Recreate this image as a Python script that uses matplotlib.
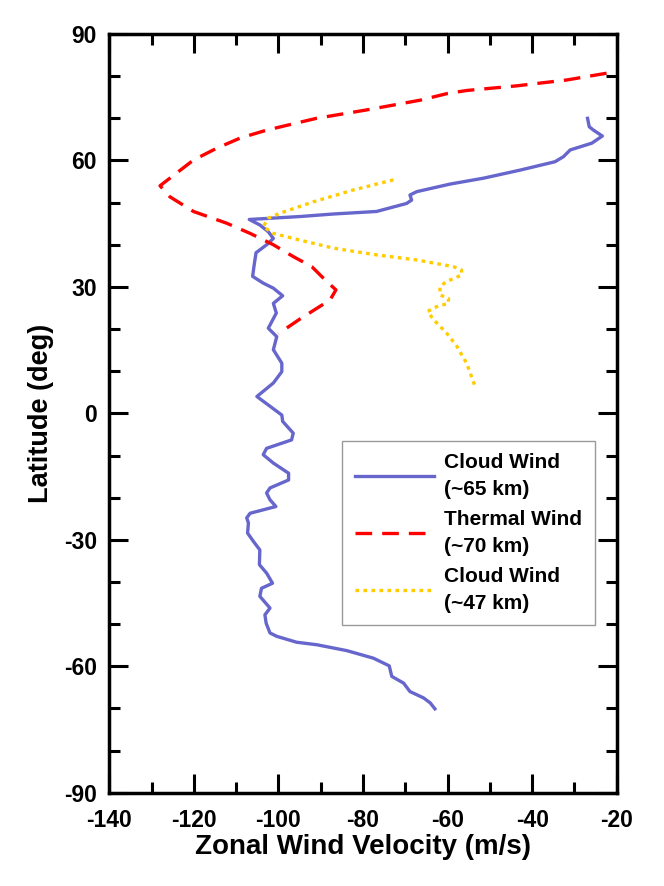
import matplotlib
matplotlib.use("Agg")
import matplotlib.pyplot as plt
from matplotlib.ticker import MultipleLocator

# Cloud wind (~65 km)
cloud65_u = [-26.9, -26.5, -25.5, -23.4, -25.9, -31.0, -32.6, -34.6, -42.9, -51.5,
             -59.4, -67.3, -68.9, -68.5, -69.7, -76.8, -87.0, -94.9, -106.9, -104.4,
             -102.4, -101.2, -102.8, -105.3, -105.8, -106.1, -103.6, -101.2, -99.0, -101.2,
             -100.5, -102.4, -100.4, -101.2, -99.2, -99.2, -101.2, -105.1, -99.2, -99.0,
             -96.5, -96.9, -102.8, -103.6, -101.2, -97.6, -97.6, -102.0, -102.8, -102.0,
             -100.6, -106.7, -107.5, -107.1, -107.3, -105.9, -104.4, -104.5, -102.8, -101.4,
             -104.0, -104.4, -102.0, -103.2, -102.9, -102.0, -100.4, -95.7, -90.9, -83.8,
             -77.5, -73.8, -73.2, -70.4, -68.9, -65.7, -64.1, -63.0]
cloud65_lat = [70.0, 68.0, 67.2, 65.8, 64.1, 62.5, 60.9, 59.7, 57.7, 55.8,
               54.4, 52.6, 51.8, 50.6, 49.8, 47.9, 47.3, 46.7, 46.0, 44.7,
               43.1, 41.5, 40.0, 38.1, 34.8, 32.5, 30.9, 29.7, 27.9, 26.1,
               23.8, 20.2, 18.2, 15.1, 11.9, 9.9, 7.2, 4.0, -0.4, -1.9,
               -4.7, -6.3, -8.3, -9.8, -11.8, -14.2, -15.8, -17.7, -18.9, -20.5,
               -22.1, -23.7, -24.8, -26.0, -28.4, -30.4, -32.4, -35.9, -37.9, -40.3,
               -41.5, -43.4, -46.2, -47.8, -49.8, -52.1, -52.9, -54.3, -54.9, -56.3,
               -58.1, -59.9, -62.4, -64.0, -66.0, -67.5, -68.7, -70.1]

# Thermal wind (~70 km)
thermal_u = [-22.4, -31.8, -43.7, -55.5, -60.0, -66.5, -79.1, -91.0, -102.8, -109.1,
             -114.6, -120.1, -124.1, -128.0, -125.7, -120.1, -112.2, -106.7, -101.2, -96.5,
             -92.1, -88.6, -86.4, -87.8, -94.9, -100.0]
thermal_lat = [80.7, 79.1, 77.7, 76.6, 75.9, 74.3, 72.0, 70.0, 67.2, 65.3,
               62.9, 60.1, 57.0, 54.0, 51.4, 47.9, 45.1, 42.7, 40.0, 37.2,
               34.8, 31.3, 29.3, 26.9, 22.4, 18.9]

# Cloud wind (~47 km)
cloud47_u = [-72.8, -82.3, -91.7, -99.6, -102.4, -103.6, -101.2, -94.9, -87.0, -76.8,
             -67.3, -58.6, -56.7, -56.7, -60.2, -61.8, -61.8, -59.8, -59.8, -62.6,
             -64.7, -63.3, -60.2, -57.8, -55.5, -53.5]
cloud47_lat = [55.4, 53.0, 50.2, 47.5, 46.3, 44.3, 42.7, 41.1, 39.2, 37.6,
               36.4, 34.8, 34.0, 32.8, 31.3, 30.1, 28.1, 27.3, 26.1, 25.3,
               24.2, 22.2, 19.0, 15.9, 11.9, 6.4]

plt.rcParams["font.family"] = ["Liberation Sans", "DejaVu Sans"]
plt.rcParams["font.weight"] = "bold"
plt.rcParams["axes.unicode_minus"] = False

fig = plt.figure(figsize=(6.64, 8.86), dpi=100)
ax = fig.add_axes([0.1646, 0.1053, 0.7642, 0.8563])

ax.plot(cloud65_u, cloud65_lat, color="#6666cc", lw=2.4, label="Cloud Wind\n(~65 km)")
ax.plot(thermal_u, thermal_lat, color="#ff0000", lw=2.4, linestyle=(0, (5, 3)),
        label="Thermal Wind\n(~70 km)")
ax.plot(cloud47_u, cloud47_lat, color="#ffcc00", lw=2.4, linestyle=(0, (1.1, 1.3)),
        label="Cloud Wind\n(~47 km)")

ax.set_xlim(-140, -20)
ax.set_ylim(-90, 90)
ax.xaxis.set_major_locator(MultipleLocator(20))
ax.xaxis.set_minor_locator(MultipleLocator(10))
ax.yaxis.set_major_locator(MultipleLocator(30))
ax.yaxis.set_minor_locator(MultipleLocator(10))
ax.tick_params(which="both", direction="in", top=True, right=True, width=2.2,
               labelsize=16.5)
ax.tick_params(which="major", length=14)
ax.tick_params(which="minor", length=8)
ax.tick_params(axis="x", which="major", pad=12)
ax.tick_params(axis="y", which="major", pad=9)
for s in ax.spines.values():
    s.set_linewidth(2.5)

ax.set_xlabel("Zonal Wind Velocity (m/s)", fontsize=20, fontweight="bold", labelpad=1)
ax.set_ylabel("Latitude (deg)", fontsize=19.5, fontweight="bold", labelpad=7)

leg = ax.legend(loc="upper left", bbox_to_anchor=(0.4586, 0.4636), borderaxespad=0,
                fontsize=15, frameon=True, fancybox=False, handlelength=3.8,
                labelspacing=0.55, borderpad=0.6, handletextpad=0.5)
for t in leg.get_texts():
    t.set_linespacing(1.5)
leg.get_frame().set_edgecolor("#808080")
leg.get_frame().set_linewidth(1.0)

fig.savefig("out.png", dpi=100)
